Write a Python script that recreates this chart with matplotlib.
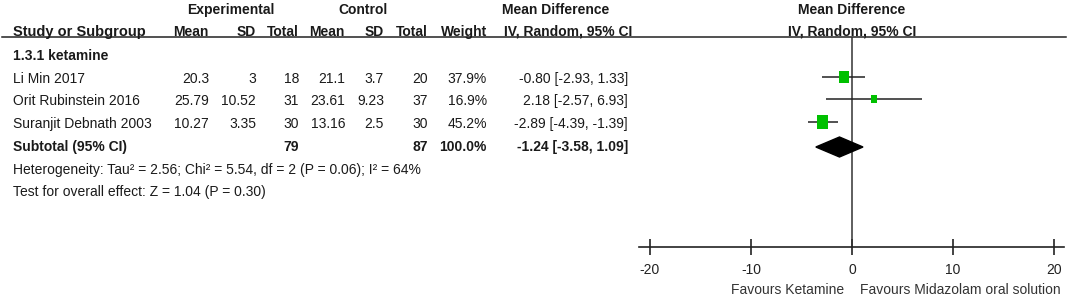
import matplotlib
matplotlib.use("Agg")
import matplotlib.pyplot as plt
from matplotlib.patches import Rectangle, Polygon

plt.rcParams['font.family'] = ['Liberation Sans', 'DejaVu Sans']

# ---------------- data ----------------
studies = ["Li Min 2017", "Orit Rubinstein 2016", "Suranjit Debnath 2003"]
exp_mean = [20.3, 25.79, 10.27]
exp_sd = [3, 10.52, 3.35]
exp_n = [18, 31, 30]
ctrl_mean = [21.1, 23.61, 13.16]
ctrl_sd = [3.7, 9.23, 2.5]
ctrl_n = [20, 37, 30]
weights = [37.9, 16.9, 45.2]
md = [-0.80, 2.18, -2.89]
md_lo = [-2.93, -2.57, -4.39]
md_hi = [1.33, 6.93, -1.39]
sub_exp_n = 79
sub_ctrl_n = 87
sub_weight = 100.0
sub_md, sub_lo, sub_hi = -1.24, -3.58, 1.09
subgroup = "1.3.1 ketamine"
heterogeneity = "Heterogeneity: Tau\u00b2 = 2.56; Chi\u00b2 = 5.54, df = 2 (P = 0.06); I\u00b2 = 64%"
overall = "Test for overall effect: Z = 1.04 (P = 0.30)"
x_ticks = [-20, -10, 0, 10, 20]
favours_left = "Favours Ketamine"
favours_right = "Favours Midazolam oral solution"

# ---------------- layout ----------------
W, H = 1079, 297
fig = plt.figure(figsize=(W / 100, H / 100), dpi=100)
tab = fig.add_axes([0, 0, 1, 1])
tab.set_xlim(0, W)
tab.set_ylim(H, 0)
tab.axis('off')

FS = 10.0
y_h1, y_h2, y_line = 10, 32, 37
y_sub = 56
y_rows = [79, 101, 124]
y_total = 147
y_het, y_test = 170, 192
y_axis = 247

col_right = dict(em=209, esd=256, en=299, cm=345, csd=384, cn=428, w=487, ci=628)
x_name = 13

def fmt(v):
    return f"{v:g}"

def ci_str(m, l, h):
    return f"{m:.2f} [{l:.2f}, {h:.2f}]"

bold = dict(fontweight='bold')
dark = '#1a1a1a'
# header row 1
tab.text(231, y_h1, "Experimental", ha='center', va='center', fontsize=FS, color=dark, **bold)
tab.text(363, y_h1, "Control", ha='center', va='center', fontsize=FS, color=dark, **bold)
tab.text(556, y_h1, "Mean Difference", ha='center', va='center', fontsize=FS, color=dark, **bold)
# header row 2
tab.text(x_name, y_h2, "Study or Subgroup", ha='left', va='center', fontsize=FS + 0.5,
         color=dark, **bold)
for key, lab in [('em', 'Mean'), ('esd', 'SD'), ('en', 'Total'), ('cm', 'Mean'),
                 ('csd', 'SD'), ('cn', 'Total'), ('w', 'Weight')]:
    tab.text(col_right[key], y_h2, lab, ha='right', va='center', fontsize=FS, color=dark, **bold)
tab.text(568, y_h2, "IV, Random, 95% CI", ha='center', va='center', fontsize=FS, color=dark, **bold)
tab.plot([2, 1066], [y_line, y_line], color='#222222', lw=1.1)

tab.text(x_name, y_sub, subgroup, ha='left', va='center', fontsize=FS, color=dark, **bold)

for i, y in enumerate(y_rows):
    tab.text(x_name, y, studies[i], ha='left', va='center', fontsize=FS, color=dark)
    vals = dict(em=fmt(exp_mean[i]), esd=fmt(exp_sd[i]), en=str(exp_n[i]),
                cm=fmt(ctrl_mean[i]), csd=fmt(ctrl_sd[i]), cn=str(ctrl_n[i]),
                w=f"{weights[i]:.1f}%", ci=ci_str(md[i], md_lo[i], md_hi[i]))
    for key, s in vals.items():
        tab.text(col_right[key], y, s, ha='right', va='center', fontsize=FS, color=dark)

tab.text(x_name, y_total, "Subtotal (95% CI)", ha='left', va='center', fontsize=FS, color=dark, **bold)
tab.text(col_right['en'], y_total, str(sub_exp_n), ha='right', va='center', fontsize=FS, color=dark, **bold)
tab.text(col_right['cn'], y_total, str(sub_ctrl_n), ha='right', va='center', fontsize=FS, color=dark, **bold)
tab.text(col_right['w'], y_total, f"{sub_weight:.1f}%", ha='right', va='center', fontsize=FS,
         color=dark, **bold)
tab.text(col_right['ci'], y_total, ci_str(sub_md, sub_lo, sub_hi), ha='right', va='center',
         fontsize=FS, color=dark, **bold)
tab.text(x_name, y_het, heterogeneity, ha='left', va='center', fontsize=FS, color=dark)
tab.text(x_name, y_test, overall, ha='left', va='center', fontsize=FS, color=dark)

# ---------------- forest panel ----------------
px_m20, px_p20 = 650, 1054
scale = (px_p20 - px_m20) / 40.0
ax_l, ax_r = 639, 1064
ax = fig.add_axes([ax_l / W, 0, (ax_r - ax_l) / W, 1])
ax.set_xlim(-20 - (px_m20 - ax_l) / scale, 20 + (ax_r - px_p20) / scale)
ax.set_ylim(H, 0)
ax.patch.set_visible(False)
for s in ['top', 'left', 'right']:
    ax.spines[s].set_visible(False)
ax.spines['bottom'].set_position(('data', y_axis))
ax.spines['bottom'].set_linewidth(1.2)
ax.spines['bottom'].set_color('#222222')
ax.set_yticks([])
ax.set_xticks(x_ticks)
ax.set_xticklabels([str(t) for t in x_ticks])
ax.tick_params(axis='x', direction='inout', length=11, width=1.2, color='#222222',
               labelsize=FS, pad=6, labelcolor='#222222')

ax.text(0, y_h1, "Mean Difference", ha='center', va='center', fontsize=FS, color=dark, **bold)
ax.text(0, y_h2, "IV, Random, 95% CI", ha='center', va='center', fontsize=FS, color=dark, **bold)

ax.vlines(0, y_line, y_axis, color='#333333', lw=1.1)

green = '#00c000'
for i, y in enumerate(y_rows):
    yy = y - 2
    ax.hlines(yy, md_lo[i], md_hi[i], color='#222222', lw=1.1, zorder=2)
    side = weights[i] ** 0.5
    w_px, h_px = 1.6 * side, 2.0 * side
    ax.add_patch(Rectangle((md[i] - w_px / 2 / scale, yy - h_px / 2), w_px / scale, h_px,
                           facecolor=green, edgecolor='none', zorder=3))

dh = 10
ax.add_patch(Polygon([(sub_lo, y_total), (sub_md, y_total - dh), (sub_hi, y_total),
                      (sub_md, y_total + dh)], closed=True, facecolor='black',
                     edgecolor='black', zorder=3))

ax.text(-0.8, 290, favours_left, ha='right', va='center', fontsize=FS, color='#333333')
ax.text(0.8, 290, favours_right, ha='left', va='center', fontsize=FS, color='#333333')

fig.savefig("out.png", dpi=100)
